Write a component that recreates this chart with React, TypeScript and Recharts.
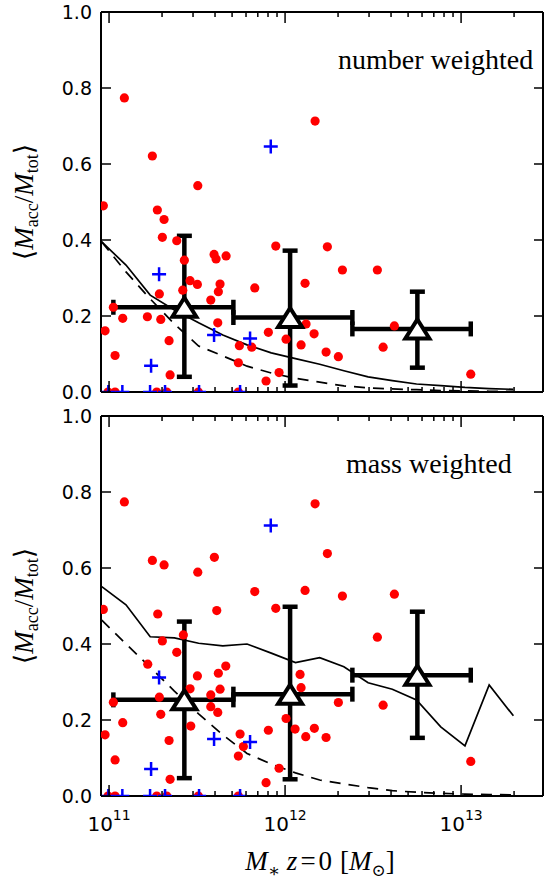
import React from "react";
import { ComposedChart, ErrorBar, Line, Scatter, XAxis, YAxis } from "recharts";

const X_MIN = 9e10;
const X_MAX = 2.92e13;

const xTicks = [
  1e11, 2e11, 3e11, 4e11, 5e11, 6e11, 7e11, 8e11, 9e11,
  1e12, 2e12, 3e12, 4e12, 5e12, 6e12, 7e12, 8e12, 9e12,
  1e13, 2e13,
];
const yTicks = [0, 0.2, 0.4, 0.6, 0.8, 1.0];

// model curves (same mass grid for all four)
const curveMass = [
  9.09e10, 1.248e11, 1.713e11, 2.35e11, 3.227e11, 4.429e11, 6.08e11, 8.345e11, 1.146e12,
  1.573e12, 2.159e12, 2.963e12, 4.067e12, 5.582e12, 7.663e12, 1.052e13, 1.444e13, 1.982e13,
];
const numberSolid = [0.395, 0.334, 0.255, 0.216, 0.182, 0.15, 0.124, 0.103, 0.088, 0.073, 0.056, 0.04, 0.03, 0.021, 0.017, 0.012, 0.009, 0.007];
const numberDashed = [0.395, 0.316, 0.245, 0.179, 0.121, 0.095, 0.068, 0.05, 0.036, 0.026, 0.016, 0.011, 0.008, 0.006, 0.004, 0.003, 0.002, 0.002];
const massSolid = [0.551, 0.503, 0.419, 0.416, 0.402, 0.395, 0.4, 0.376, 0.351, 0.364, 0.34, 0.298, 0.281, 0.253, 0.182, 0.132, 0.292, 0.211];
const massDashed = [0.463, 0.4, 0.339, 0.276, 0.216, 0.161, 0.112, 0.084, 0.061, 0.042, 0.032, 0.022, 0.014, 0.01, 0.007, 0.005, 0.004, 0.003];

// red galaxies, number weighted
const redNumberX = [
  9.28e10, 9.49e10, 1.058e11, 1.082e11, 1.196e11, 1.222e11, 1.651e11, 1.762e11, 1.881e11, 1.931e11,
  1.967e11, 2.008e11, 2.054e11, 2.193e11, 2.222e11, 2.425e11, 2.623e11, 2.678e11, 2.885e11, 3.176e11,
  3.192e11, 3.783e11, 3.95e11, 4.055e11, 4.146e11, 4.178e11, 4.272e11, 4.622e11, 5.429e11, 5.5e11,
  6.469e11, 6.727e11, 7.798e11, 8.037e11, 8.855e11, 9.246e11, 1.013e12, 1.233e12, 1.299e12, 1.316e12,
  1.462e12, 1.481e12, 1.71e12, 1.739e12, 2.008e12, 2.117e12, 3.345e12, 3.606e12, 4.178e12, 1.135e13,
  9.87e10, 1.082e11, 1.866e11, 2.127e11, 3.217e11, 5.429e11,
];
const redNumberY = [
  0.49, 0.161, 0.223, 0.096, 0.194, 0.774, 0.198, 0.621, 0.479, 0.258,
  0.191, 0.407, 0.454, 0.135, 0.045, 0.398, 0.268, 0.347, 0.293, 0.283,
  0.543, 0.242, 0.362, 0.35, 0.182, 0.264, 0.284, 0.358, 0.077, 0.122,
  0.118, 0.274, 0.029, 0.157, 0.384, 0.051, 0.139, 0.124, 0.286, 0.179,
  0.153, 0.713, 0.105, 0.382, 0.093, 0.321, 0.321, 0.118, 0.174, 0.047,
  0, 0, 0, 0, 0, 0,
];

// red galaxies, mass weighted
const redMassX = [
  9.28e10, 9.49e10, 1.058e11, 1.082e11, 1.196e11, 1.222e11, 1.659e11, 1.762e11, 1.891e11, 1.931e11,
  1.967e11, 2.008e11, 2.054e11, 2.193e11, 2.222e11, 2.425e11, 2.643e11, 2.885e11, 2.912e11, 3.176e11,
  3.192e11, 3.783e11, 3.783e11, 3.966e11, 4.092e11, 4.146e11, 4.178e11, 4.272e11, 4.604e11, 5.429e11,
  5.551e11, 5.796e11, 6.727e11, 7.798e11, 8.037e11, 8.855e11, 9.246e11, 1.013e12, 1.14e12, 1.217e12,
  1.233e12, 1.299e12, 1.311e12, 1.467e12, 1.481e12, 1.71e12, 1.739e12, 2.008e12, 2.117e12, 3.345e12,
  3.606e12, 4.178e12, 1.135e13,
  9.87e10, 1.082e11, 1.866e11, 2.127e11, 3.217e11, 5.429e11,
];
const redMassY = [
  0.491, 0.161, 0.247, 0.095, 0.193, 0.774, 0.347, 0.62, 0.479, 0.26,
  0.215, 0.408, 0.608, 0.146, 0.044, 0.378, 0.424, 0.282, 0.184, 0.316,
  0.589, 0.266, 0.235, 0.628, 0.488, 0.22, 0.323, 0.281, 0.342, 0.105,
  0.163, 0.13, 0.538, 0.035, 0.173, 0.494, 0.073, 0.204, 0.176, 0.32,
  0.285, 0.541, 0.156, 0.178, 0.769, 0.154, 0.638, 0.246, 0.526, 0.418,
  0.239, 0.531, 0.091,
  0, 0, 0, 0, 0, 0,
];

// blue galaxies
const blueX = [1.924e11, 3.95e11, 6.326e11, 1.733e11, 8.294e11, 9.91e10, 1.19e11, 1.71e11, 2.08e11, 3.246e11, 5.551e11];
const blueNumberY = [0.31, 0.15, 0.141, 0.069, 0.646, 0, 0, 0, 0, 0, 0];
const blueMassY = [0.312, 0.15, 0.142, 0.071, 0.712, 0, 0, 0, 0, 0, 0];

// binned means
const binCenter = [2.678e11, 1.068e12, 5.645e12];
const binLow = [1.058e11, 5.086e11, 2.412e12];
const binHigh = [5.086e11, 2.412e12, 1.135e13];
const numberMean = [0.223, 0.196, 0.166];
const numberLow = [0.04, 0.017, 0.064];
const numberHigh = [0.411, 0.372, 0.264];
const massMean = [0.253, 0.268, 0.318];
const massLow = [0.047, 0.044, 0.153];
const massHigh = [0.459, 0.498, 0.485];

const SANS = "DejaVu Sans";
const SERIF = "Liberation Serif, DejaVu Serif, serif";
const frame = { stroke: "#000", strokeWidth: 2 };

const pairs = (xs: number[], ys: number[]) => xs.map((x, i) => ({ x, y: ys[i] }));
const bins = (mean: number[], low: number[], high: number[]) =>
  binCenter.map((x, i) => ({
    x,
    y: mean[i],
    ex: [x - binLow[i], binHigh[i] - x],
    ey: [mean[i] - low[i], high[i] - mean[i]],
  }));

const isMajor = (v: number) => Math.abs(Math.log10(v) - Math.round(Math.log10(v))) < 1e-6;

const RedDot = (p: any) => <circle cx={p.cx} cy={p.cy} r={4.6} fill="#ff0000" />;
const BluePlus = (p: any) => (
  <path
    d={`M${p.cx - 7},${p.cy}H${p.cx + 7}M${p.cx},${p.cy - 7}V${p.cy + 7}`}
    stroke="#0000ff"
    strokeWidth={2.5}
    fill="none"
  />
);
const Triangle = (p: any) => (
  <polygon
    points={`${p.cx},${p.cy - 9.5} ${p.cx - 12},${p.cy + 9.5} ${p.cx + 12},${p.cy + 9.5}`}
    fill="#fff"
    stroke="#000"
    strokeWidth={4}
  />
);

function BottomTick(props: any) {
  const { payload, showLabel } = props;
  const v = payload.value;
  const major = isMajor(v);
  const px = Number(props.x);
  const py = Number(props.y);
  return (
    <g>
      <line x1={px} x2={px} y1={py} y2={py - (major ? 11 : 5)} stroke="#000" strokeWidth={1.5} />
      {showLabel && major && (
        <text x={px} y={py + 35} textAnchor="middle" fontFamily={SANS} fill="#000">
          <tspan fontSize={20}>10</tspan>
          <tspan fontSize={14} dy={-11}>{Math.round(Math.log10(v))}</tspan>
        </text>
      )}
    </g>
  );
}

function TopTick(props: any) {
  const major = isMajor(props.payload.value);
  const px = Number(props.x);
  const py = Number(props.y);
  return <line x1={px} x2={px} y1={py} y2={py + (major ? 11 : 5)} stroke="#000" strokeWidth={1.5} />;
}

function LeftTick(props: any) {
  const px = Number(props.x);
  const py = Number(props.y);
  return (
    <g>
      <line x1={px} x2={px + 10} y1={py} y2={py} stroke="#000" strokeWidth={1.5} />
      <text x={px - 9} y={py} dy="0.36em" textAnchor="end" fontSize={19} fontFamily={SANS} fill="#000">
        {Number(props.payload.value).toFixed(1)}
      </text>
    </g>
  );
}

function RightTick(props: any) {
  const px = Number(props.x);
  const py = Number(props.y);
  return <line x1={px} x2={px - 9} y1={py} y2={py} stroke="#000" strokeWidth={1.5} />;
}

interface PanelProps {
  top: number;
  height: number;
  marginTop: number;
  marginBottom: number;
  bottomHeight: number;
  showLabels: boolean;
  solid: number[];
  dashed: number[];
  redX: number[];
  redY: number[];
  blueY: number[];
  mean: number[];
  low: number[];
  high: number[];
  title: string;
  titleX: number;
  titleY: number;
}

function Panel(p: PanelProps) {
  const plotTop = p.marginTop + 1;
  const midY = plotTop + 190;
  return (
    <div style={{ position: "absolute", left: 0, top: p.top }}>
      <ComposedChart
        width={545}
        height={p.height}
        margin={{ top: p.marginTop, right: 1, bottom: p.marginBottom, left: 0 }}
      >
        <XAxis
          dataKey="x"
          type="number"
          scale="log"
          domain={[X_MIN, X_MAX]}
          allowDataOverflow
          ticks={xTicks}
          interval={0}
          height={p.bottomHeight}
          tickSize={0}
          tickMargin={0}
          axisLine={frame}
          tickLine={false}
          tick={(t: any) => <BottomTick {...t} showLabel={p.showLabels} />}
        />
        <XAxis
          xAxisId="t"
          orientation="top"
          dataKey="x"
          type="number"
          scale="log"
          domain={[X_MIN, X_MAX]}
          allowDataOverflow
          ticks={xTicks}
          interval={0}
          height={1}
          tickSize={0}
          tickMargin={0}
          axisLine={frame}
          tickLine={false}
          tick={(t: any) => <TopTick {...t} />}
        />
        <YAxis
          dataKey="y"
          type="number"
          domain={[0, 1]}
          allowDataOverflow
          ticks={yTicks}
          interval={0}
          width={101}
          tickSize={0}
          tickMargin={0}
          axisLine={frame}
          tickLine={false}
          tick={(t: any) => <LeftTick {...t} />}
        />
        <YAxis
          yAxisId="r"
          orientation="right"
          dataKey="y"
          type="number"
          domain={[0, 1]}
          allowDataOverflow
          ticks={yTicks}
          interval={0}
          width={1}
          tickSize={0}
          tickMargin={0}
          axisLine={frame}
          tickLine={false}
          tick={(t: any) => <RightTick {...t} />}
        />
        <Line data={pairs(curveMass, p.solid)} dataKey="y" type="linear" dot={false} stroke="#000" strokeWidth={1.7} isAnimationActive={false} />
        <Line data={pairs(curveMass, p.dashed)} dataKey="y" type="linear" dot={false} stroke="#000" strokeWidth={1.7} strokeDasharray="11 8" isAnimationActive={false} />
        <Scatter data={pairs(p.redX, p.redY)} dataKey="y" shape={RedDot} isAnimationActive={false} />
        <Scatter data={pairs(blueX, p.blueY)} dataKey="y" shape={BluePlus} isAnimationActive={false} />
        <Scatter data={bins(p.mean, p.low, p.high)} dataKey="y" shape={Triangle} isAnimationActive={false}>
          <ErrorBar dataKey="ex" direction="x" width={7.5} stroke="#000" strokeWidth={4.5} />
          <ErrorBar dataKey="ey" direction="y" width={7.5} stroke="#000" strokeWidth={4.5} />
        </Scatter>
        <text x={p.titleX} y={p.titleY} fontFamily={SERIF} fontSize={28} fill="#000">
          {p.title}
        </text>
        <text
          x={33}
          y={midY}
          transform={`rotate(-90, 33, ${midY})`}
          textAnchor="middle"
          fontFamily={SERIF}
          fontSize={27}
          fill="#000"
        >
          <tspan>⟨</tspan>
          <tspan fontStyle="italic">M</tspan>
          <tspan fontSize={18} dy={5}>acc</tspan>
          <tspan dy={-5}>/</tspan>
          <tspan fontStyle="italic">M</tspan>
          <tspan fontSize={18} dy={5}>tot</tspan>
          <tspan dy={-5}>⟩</tspan>
        </text>
        {p.showLabels && (
          <text x={320} y={470} textAnchor="middle" fontFamily={SERIF} fontSize={27} fill="#000">
            <tspan fontStyle="italic">M</tspan>
            <tspan fontSize={18} dy={7}>∗</tspan>
            <tspan dy={-7} dx={7} fontStyle="italic">z</tspan>
            <tspan dx={3}>=</tspan>
            <tspan dx={3}>0</tspan>
            <tspan dx={8}>[</tspan>
            <tspan fontStyle="italic">M</tspan>
            <tspan fontSize={17} dy={6}>⊙</tspan>
            <tspan dy={-6}>]</tspan>
          </text>
        )}
      </ComposedChart>
    </div>
  );
}

export default function App() {
  return (
    <div style={{ position: "absolute", left: 0, top: 0, width: 545, height: 880, background: "#fff" }}>
      <Panel
        top={0}
        height={412}
        marginTop={11}
        marginBottom={12}
        bottomHeight={8}
        showLabels={false}
        solid={numberSolid}
        dashed={numberDashed}
        redX={redNumberX}
        redY={redNumberY}
        blueY={blueNumberY}
        mean={numberMean}
        low={numberLow}
        high={numberHigh}
        title="number weighted"
        titleX={338}
        titleY={69}
      />
      <Panel
        top={400}
        height={480}
        marginTop={15}
        marginBottom={0}
        bottomHeight={84}
        showLabels={true}
        solid={massSolid}
        dashed={massDashed}
        redX={redMassX}
        redY={redMassY}
        blueY={blueMassY}
        mean={massMean}
        low={massLow}
        high={massHigh}
        title="mass weighted"
        titleX={346}
        titleY={73}
      />
    </div>
  );
}
